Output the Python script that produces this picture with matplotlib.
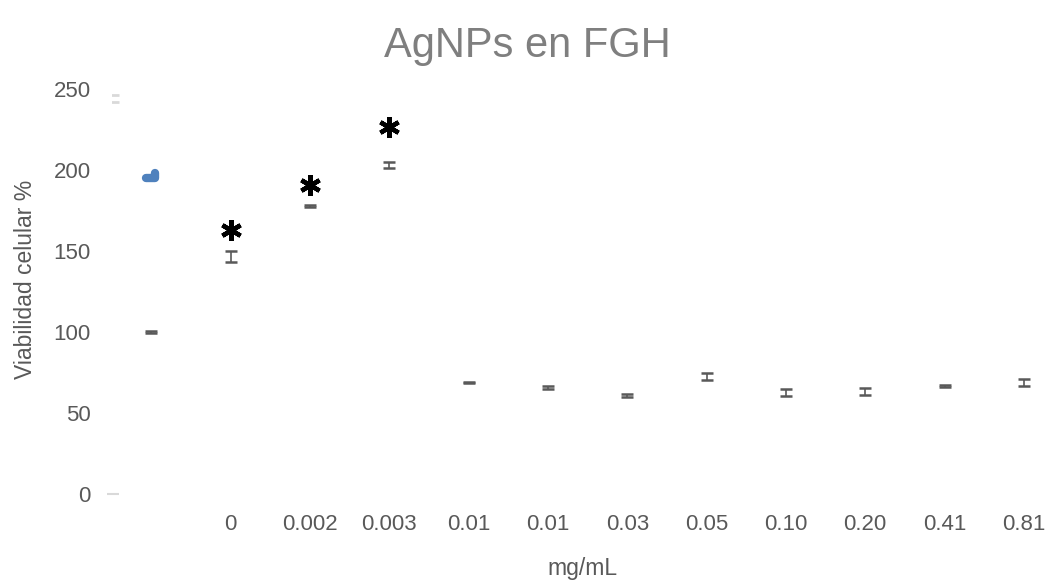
import matplotlib.pyplot as plt
import numpy as np

plt.rcParams['font.family'] = ['Liberation Sans', 'DejaVu Sans']

# data
categories = ["", "0", "0.002", "0.003", "0.01", "0.01", "0.03", "0.05",
              "0.10", "0.20", "0.41", "0.81"]
viability = [100, 147, 177.8, 203.5, 69, 66, 61, 72.8, 63, 63.5, 67, 69]
errors = [0.6, 3.5, 0.6, 2.0, 0.5, 0.9, 0.8, 2.0, 2.0, 2.0, 0.5, 2.0]

# significance marks (category index, height)
sig_idx = [1, 2, 3]
sig_y = [163, 191, 227]

# stray marks in the original chart
blue_x = [-0.07, 0.05, 0.05]
blue_y = [195.5, 195.5, 198.5]
faint_y = 244.5
faint_err = 2.2

x = np.arange(len(categories))

fig = plt.figure(figsize=(10.54, 5.81), dpi=100)
ax = fig.add_axes([0.106, 0.149, 0.894, 0.697])

ax.errorbar(x, viability, yerr=errors, fmt="none", ecolor="#595959",
            elinewidth=1.2, capsize=4.6, capthick=1.8)
ax.errorbar([-0.49], [faint_y], yerr=[faint_err], fmt="none", ecolor="#d9d9d9",
            elinewidth=0, capsize=4.5, capthick=2)
ax.plot([-0.49], [0], marker="_", color="#d9d9d9", markersize=8, mew=1.5,
        clip_on=False)
ax.plot(blue_x, blue_y, color="#4f81bd", lw=6, solid_capstyle="round",
        solid_joinstyle="round")

ax.plot(sig_idx, sig_y, ls="none", marker=(6, 2, 0), markersize=15,
        mew=3.2, color="black")

ax.set_xlim(-0.5, 11.38)
ax.set_ylim(0, 250)
ax.set_yticks([0, 50, 100, 150, 200, 250])
ax.set_xticks(x[1:])
ax.set_xticklabels(categories[1:])
ax.tick_params(axis="both", length=0, labelsize=16, colors="#595959")
ax.tick_params(axis="y", pad=15)
ax.tick_params(axis="x", pad=14)
for s in ax.spines.values():
    s.set_visible(False)

ax.set_xlabel("mg/mL", fontsize=16.5, color="#595959", labelpad=16)
ax.set_ylabel("Viabilidad celular %", fontsize=16.5, color="#595959")
ax.yaxis.set_label_coords(-0.079, 0.53)
fig.suptitle("AgNPs en FGH", fontsize=30, color="#7f7f7f", y=0.955)

fig.savefig("out.png", dpi=100)
